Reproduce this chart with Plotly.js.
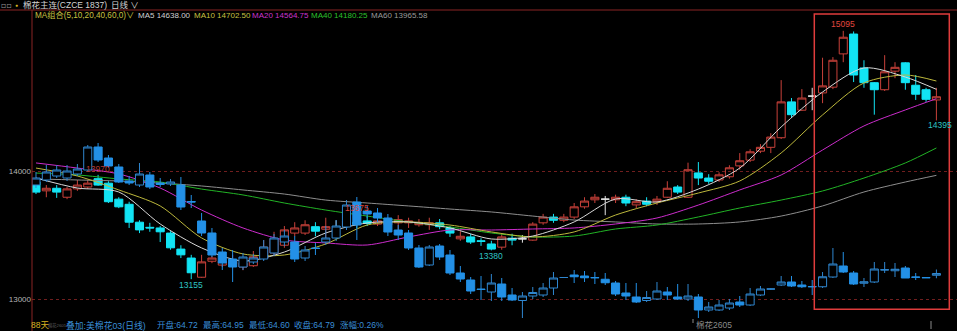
<!DOCTYPE html>
<html><head><meta charset="utf-8">
<script src="https://cdn.plot.ly/plotly-3.0.1.min.js"></script>
<style>html,body{margin:0;padding:0;background:#000;overflow:hidden}#chart{width:957px;height:331px}</style>
</head><body><div id="chart"></div>
<script>
// ---- data: 棉花主连 (CZCE) daily OHLC, 88 days ----
const dayIndex = Array.from({length: 88}, (_, i) => i);
const mainOpen = [13915,13845,13865,13795,13860,13875,13940,13905,13780,13740,
13600,13560,13555,13515,13390,13320,13170,13295,13265,13275,
13250,13260,13320,13360,13420,13515,13515,13565,13545,13565,
13570,13600,13610,13585,13580,13595,13595,13580,13580,13595,
13555,13470,13485,13455,13430,13405,13475,13470,13460,13595,
13640,13615,13640,13720,13775,13780,13775,13795,13735,13765,
13760,13795,13875,13795,13985,13945,13930,13955,14040,14085,
14155,14185,14260,14540,14475,14585,14610,14655,14915,15070,
14805,14690,14635,14780,14845,14670,14635,14555];
const mainHigh = [13945,13890,13890,13875,13930,13930,13970,13920,13795,13760,
13615,13595,13570,13530,13420,13345,13345,13335,13320,13345,
13320,13375,13460,13525,13570,13600,13615,13600,13635,13615,
13640,13675,13650,13650,13635,13655,13635,13625,13635,13625,
13570,13530,13510,13475,13455,13510,13510,13500,13600,13665,
13665,13665,13750,13795,13820,13805,13815,13815,13780,13795,
13805,13920,13890,14065,14070,13975,13990,14045,14140,14170,
14210,14295,14710,14570,14640,14650,14885,14890,15095,15090,
14865,14695,14905,14850,14850,14750,14650,14650];
const mainLow = [13820,13795,13790,13780,13845,13860,13885,13750,13710,13555,
13515,13525,13445,13385,13320,13155,13165,13280,13250,13240,
13225,13250,13305,13335,13400,13490,13500,13490,13460,13475,
13555,13555,13570,13570,13555,13530,13555,13565,13540,13545,
13485,13455,13430,13415,13380,13385,13420,13440,13455,13580,
13595,13600,13625,13705,13750,13655,13750,13725,13710,13725,
13735,13790,13820,13790,13890,13900,13915,13940,14010,14070,
14140,14140,14250,14415,14470,14475,14530,14640,14850,14695,
14650,14440,14625,14725,14635,14555,14540,14395];
const mainClose = [13835,13865,13835,13860,13890,13905,13890,13760,13720,13600,
13540,13555,13525,13400,13345,13205,13290,13320,13295,13295,
13280,13330,13405,13470,13540,13555,13580,13530,13565,13565,
13610,13585,13590,13610,13600,13620,13610,13595,13595,13565,
13515,13490,13445,13450,13390,13485,13460,13470,13585,13640,
13615,13640,13720,13765,13795,13780,13795,13750,13760,13740,
13780,13865,13835,14010,13945,13920,13970,14025,14080,14150,
14185,14265,14540,14440,14570,14585,14665,14865,15045,14750,
14690,14635,14775,14810,14690,14600,14560,14580];

// ---- overlay: 美棉花03 (日线) OHLC ----
const usOpen = [68.33,68.53,68.69,68.61,68.77,68.93,69.85,69.41,69.05,68.49,
68.33,68.73,68.41,68.37,68.33,67.67,66.89,66.41,65.65,65.37,
65.05,65.25,65.37,65.61,66.05,66.05,65.41,65.81,66.05,66.21,
66.65,67.65,67.29,67.21,67.01,66.53,66.41,65.81,65.13,65.89,
65.53,64.81,64.53,64.17,64.05,64.37,63.93,63.71,63.89,63.93,
64.21,64.63,64.73,64.69,64.63,64.56,64.41,64.01,63.85,63.71,
63.77,64.05,63.85,63.77,63.85,63.33,63.33,63.41,63.65,63.53,
63.93,64.17,64.33,64.45,64.33,64.27,64.26,64.65,65.09,64.81,
64.40,64.45,64.93,64.90,65.01,64.65,64.63,64.72];
const usHigh = [68.85,69.13,69.13,69.13,69.17,69.93,70.01,69.53,69.17,68.69,
69.21,68.85,68.61,68.57,68.65,67.93,67.21,66.61,65.81,65.73,
65.61,65.57,66.13,66.37,66.53,66.29,65.89,66.01,66.69,66.93,
67.73,67.85,67.49,67.41,67.17,66.73,66.53,65.93,65.93,65.97,
65.73,65.09,64.65,64.69,64.77,64.61,64.21,64.05,64.25,64.41,
64.85,64.65,64.93,64.89,64.85,64.81,64.49,64.41,64.41,64.09,
64.45,64.25,64.37,64.37,63.97,63.65,63.73,63.77,63.89,64.21,
64.29,64.19,64.69,64.69,64.49,64.53,64.85,65.81,65.65,64.89,
64.61,65.25,65.25,65.21,65.09,64.81,64.65,64.95];
const usLow = [68.21,68.45,68.61,68.49,68.69,68.85,69.25,69.01,68.41,68.33,
68.25,68.17,68.25,68.29,67.33,67.41,66.29,65.45,64.93,64.45,
64.93,65.17,65.29,65.49,65.89,65.25,65.29,65.53,65.93,66.09,
66.53,66.13,67.01,66.85,66.29,66.13,65.73,65.01,65.09,65.33,
64.73,64.45,63.97,63.73,63.69,63.69,63.69,63.01,63.77,63.85,
63.93,64.61,64.41,64.45,64.37,64.33,63.89,63.73,63.61,63.65,
63.73,63.73,63.73,63.69,63.01,63.25,63.29,63.33,63.45,63.49,
63.89,64.15,64.29,64.25,64.21,63.93,64.21,64.61,64.81,64.33,
64.25,64.41,64.81,64.65,64.61,64.53,64.61,64.60];
const usClose = [68.61,68.85,68.93,68.89,68.97,69.85,69.33,69.09,68.45,68.41,
68.77,68.25,68.35,68.45,67.45,67.65,66.41,65.53,65.21,65.05,
65.45,65.41,65.85,66.21,66.29,65.37,65.73,65.79,66.21,66.69,
67.53,66.73,67.17,67.01,66.45,66.33,65.81,65.05,65.85,65.45,
64.81,64.57,64.09,64.15,64.41,63.85,63.73,63.89,64.03,64.21,
64.61,64.63,64.66,64.62,64.62,64.42,63.97,63.89,63.65,63.83,
64.09,63.93,63.77,63.89,63.33,63.45,63.53,63.61,63.53,63.97,
64.17,64.17,64.45,64.29,64.26,64.26,64.66,65.17,64.85,64.37,
64.46,64.97,64.94,64.96,64.61,64.64,64.62,64.79];

// ---- moving averages (every 4th day) ----
const maIndex = [0,4,8,12,16,20,24,28,32,36,40,44,48,52,56,60,64,68,72,76,80,84,87];
const ma5  = [13945,13867,13836,13586,13399,13297,13367,13516,13594,13602,13555,13469,13492,13602,13781,13758,13859,14023,14344,14617,14805,14734,14638];
const ma10 = [14023,13961,13852,13727,13477,13352,13344,13430,13578,13602,13578,13524,13485,13524,13656,13750,13828,13922,14141,14438,14688,14750,14703];
const ma20 = [14063,14023,13977,13867,13695,13555,13461,13438,13422,13485,13539,13539,13547,13555,13586,13633,13734,13852,13969,14164,14352,14477,14565];
const ma40 = [13984,13969,13938,13914,13859,13813,13750,13695,13648,13602,13563,13516,13485,13492,13547,13578,13641,13711,13773,13844,13945,14063,14180];
const ma60 = [13938,13930,13922,13906,13883,13852,13820,13773,13750,13727,13703,13680,13648,13617,13602,13586,13586,13602,13648,13727,13836,13914,13966];

const yTicks = [13000, 14000];
const maLegend = ['MA5 14638.00','MA10 14702.50','MA20 14564.75','MA40 14180.25','MA60 13965.58'];
const overlayInfo = ['叠加:美棉花03(日线)','开盘:64.72','最高:64.95','最低:64.60','收盘:64.79','涨幅:0.26%'];

// ---- build ----
const ML = 32, MT = 10, PW = 925, PH = 308;
const px = v => (v - ML) / PW;
const py = v => (MT + PH - v) / PH;
const pick = (a, idx) => idx.map(i => a[i]);

function candle(idx, o, h, l, c, color, fill, yaxis) {
  const st = {line: {color: color, width: 1}, fillcolor: fill};
  return {type: 'candlestick', x: pick(dayIndex, idx), open: pick(o, idx), high: pick(h, idx),
    low: pick(l, idx), close: pick(c, idx), increasing: st, decreasing: st,
    whiskerwidth: 0, yaxis: yaxis, hoverinfo: 'skip', showlegend: false};
}
const mUp = dayIndex.filter(i => mainClose[i] > mainOpen[i]);
const mDn = dayIndex.filter(i => mainClose[i] < mainOpen[i]);
const mDj = dayIndex.filter(i => mainClose[i] === mainOpen[i]);
const uUp = dayIndex.filter(i => usClose[i] >= usOpen[i]);
const uDn = dayIndex.filter(i => usClose[i] < usOpen[i]);

const CYAN = '#12e4f4', RED = '#c8413a', BLUE = '#2390e6', BLUE_O = '#2f86cf';
const traces = [
  candle(uUp, usOpen, usHigh, usLow, usClose, BLUE_O, 'rgba(0,0,0,1)', 'y2'),
  candle(uDn, usOpen, usHigh, usLow, usClose, BLUE, BLUE, 'y2'),
];
const maDefs = [[ma60,'#8e8e8e'],[ma40,'#22b426'],[ma20,'#cc2ccc'],[ma10,'#bdb83c'],[ma5,'#d8d8d8']];
maDefs.forEach(([arr, col]) => traces.push({type:'scatter', mode:'lines', x: pick(dayIndex, maIndex), y: arr,
  line:{color: col, width: 1, shape:'spline', smoothing: 0.8}, hoverinfo:'skip', showlegend:false}));
traces.push(candle(mUp, mainOpen, mainHigh, mainLow, mainClose, RED, 'rgba(0,0,0,0)', 'y'));
traces.push(candle(mDn, mainOpen, mainHigh, mainLow, mainClose, CYAN, CYAN, 'y'));
traces.push(candle(mDj, mainOpen, mainHigh, mainLow, mainClose, '#e6e6e6', '#e6e6e6', 'y'));

const FN = 'Liberation Sans, Noto Sans CJK SC, sans-serif';
function txt(x, y, t, color, size, extra) {
  return Object.assign({xref:'paper', yref:'paper', x: px(x), y: py(y), text: t, showarrow:false,
    xanchor:'left', yanchor:'middle', font:{family: FN, size: size || 8.5, color: color}, borderpad:0}, extra || {});
}
const ann = [
  txt(0, 5, '▫▫', '#9a9a9a', 8, {font:{family:'DejaVu Sans', size:8, color:'#9a9a9a'}}),
  txt(14, 5, '●', '#d8b820', 5),
  txt(22, 5, '棉花主连(CZCE 1837)', '#d4d4d4', 8.5),
  txt(110, 5, '日线 ∨', '#d4d4d4', 8.5),
  txt(34, 15, 'MA组合(5,10,20,40,60,0)∨', '#c8c040', 8.2),
  txt(137, 15, maLegend[0], '#d0d0d0', 8),
  txt(193, 15, maLegend[1], '#c8c040', 8),
  txt(251, 15, maLegend[2], '#cc34cc', 8),
  txt(310, 15, maLegend[3], '#2cc02c', 8),
  txt(370, 15, maLegend[4], '#9a9a9a', 8),
  txt(47, 325, '棉花2605', '#5e5e5e', 4.3),
  txt(30, 325, '88天', '#d8b020', 8.5),
  txt(65, 325, overlayInfo[0], '#3a8ed6', 8.8),
  txt(156, 325, overlayInfo[1], '#3a8ed6', 8.5),
  txt(202, 325, overlayInfo[2], '#3a8ed6', 8.5),
  txt(248, 325, overlayInfo[3], '#3a8ed6', 8.5),
  txt(293, 325, overlayInfo[4], '#3a8ed6', 8.5),
  txt(339, 325, overlayInfo[5], '#3a8ed6', 8.5),
  txt(695, 325, '棉花2605', '#8a8a8a', 8.5),
];
function priceLabel(i, v, color, ys, xs) {
  return {xref:'x', yref:'y', x: i, y: v, text: String(v), showarrow:false, yshift: ys, xshift: xs || 0,
    font:{family: FN, size: 8.5, color: color}};
}
ann.push(priceLabel(6, mainHigh[6], '#b23a34', 6));
ann.push(priceLabel(31, mainHigh[31], '#d8443c', 5));
ann.push(priceLabel(78, mainHigh[78], '#e0463e', 6.5));
ann.push(priceLabel(15, mainLow[15], '#2ec4c4', -5.5));
ann.push(priceLabel(44, mainLow[44], '#2ec4c4', -5.5));
ann.push(priceLabel(87, mainLow[87], '#2ec4c4', -4.5, 4));

const shapes = [
  {type:'line', xref:'paper', yref:'paper', x0: px(0), x1: 1, y0: 1, y1: 1, line:{color:'#8a2424', width:1}},
  {type:'line', xref:'paper', yref:'paper', x0: 0, x1: 0, y0: 1, y1: py(331), line:{color:'#8a2424', width:1}},
  {type:'rect', xref:'paper', yref:'paper', x0: px(814.3), x1: px(949.3), y0: py(309.3), y1: py(14),
    line:{color:'#e03c3c', width:1.5}},
  {type:'line', xref:'paper', yref:'paper', x0: px(693), x1: px(693), y0: py(319), y1: py(323), line:{color:'#8a8a8a', width:1}},
  {type:'line', xref:'paper', yref:'paper', x0: px(931), x1: px(931), y0: py(321), y1: py(329), line:{color:'#8a8a8a', width:1}},
];

const layout = {
  width: 957, height: 331, margin:{l: ML, r: 0, t: MT, b: 13, pad: 0},
  paper_bgcolor:'#000', plot_bgcolor:'#000', showlegend:false,
  boxgap: 0.22, boxgroupgap: 0,
  xaxis:{range:[-0.386, 88.99], showgrid:false, zeroline:false, showticklabels:false, ticks:'', showline:false,
    rangeslider:{visible:false}, fixedrange:true},
  yaxis:{range:[12851.6, 15257.8], tickvals: yTicks, ticktext: yTicks.map(String), ticks:'',
    tickfont:{family: FN, size: 8, color:'#b4b4b4'}, showgrid:true, gridcolor:'#701e1e', griddash:'3px,3px',
    gridwidth:1, zeroline:false, showline:false, fixedrange:true},
  yaxis2:{overlaying:'y', range:[63.01, 75.33], visible:false, fixedrange:true},
  annotations: ann, shapes: shapes,
};
Plotly.newPlot('chart', traces, layout, {staticPlot:true, displayModeBar:false});
</script></body></html>
